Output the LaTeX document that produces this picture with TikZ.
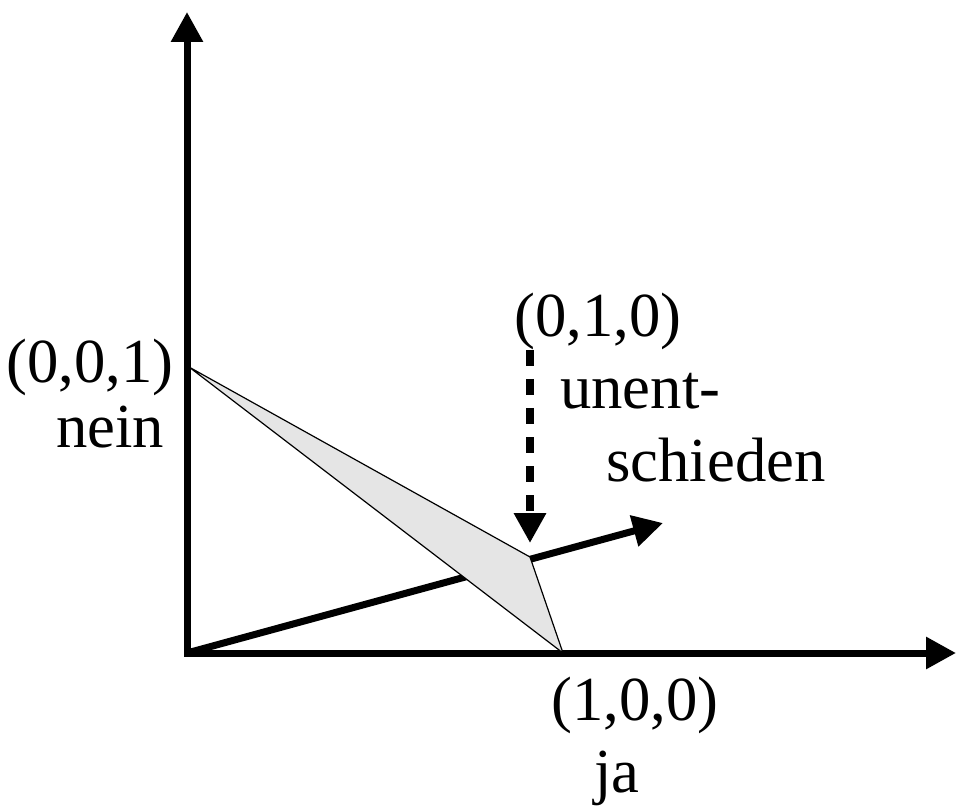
\documentclass[tikz,border=0pt]{standalone}
\usepackage{fontspec}
\setmainfont{Liberation Serif}
\usepackage{tikz}
\usetikzlibrary{arrows.meta, positioning}
\tikzset{
  axisline/.style={
    line width=5.25pt, draw=black,
    {Triangle[length=22.5pt, width=23pt]}-{Triangle[length=22.5pt, width=23pt]}
  },
  axisray/.style={
    line width=5.25pt, draw=black,
    -{Triangle[length=22.5pt, width=23pt]}
  },
  simplexface/.style={
    fill=black!10, draw=black, line width=0.9pt, line join=miter
  },
  pointer/.style={
    line width=5.5pt, draw=black, dash pattern=on 12pt off 9.75pt,
    -{Triangle[length=22.5pt, width=23pt]}
  },
  vertexlabel/.style={
    font=\fontsize{47}{50}\selectfont, inner sep=0pt
  },
}
\begin{document}
\begin{tikzpicture}[x=0.75pt, y=0.75pt]
  \useasboundingbox (-187,-158) rectangle (769,653);

  % Axes
  \coordinate (O) at (0,0);
  \coordinate (Xend) at (769,0);
  \coordinate (Yend) at (0,641);
  \coordinate (Zend) at (476,130);
  \draw[axisline] (Yend) -- (O) -- (Xend);
  \draw[axisray] (O) -- (Zend);

  % Simplex corners
  \coordinate (A) at (2,286);
  \coordinate (B) at (376,0);
  \coordinate (C) at (343,96);
  \filldraw[simplexface] (A) -- (C) -- (B) -- cycle;

  % Labels
  \node[vertexlabel, anchor=base] (p001) at (-97,270) {(0,0,1)};
  \node[vertexlabel, anchor=base] (nein) at (-77,206) {nein};
  \node[vertexlabel, anchor=base] (p010) at (411,316) {(0,1,0)};
  \node[vertexlabel, anchor=base west] (unent) at (373,244) {unent-};
  \node[vertexlabel, anchor=base west] (schieden) at (419,172) {schieden};
  \node[vertexlabel, anchor=base] (p100) at (448,-67) {(1,0,0)};
  \node[vertexlabel, anchor=base] (ja) at (430,-139) {ja};

  % Pointer to the undecided corner
  \coordinate (dstart) at (343,303);
  \coordinate (dtip) at (343,110);
  \draw[pointer] (dstart) -- (dtip);
\end{tikzpicture}
\end{document}
